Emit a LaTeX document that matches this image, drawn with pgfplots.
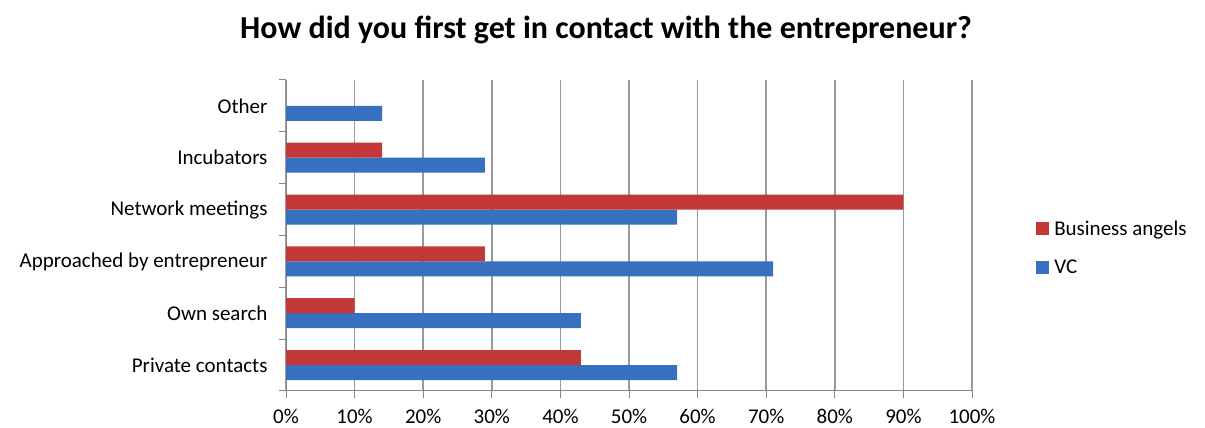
\documentclass[border=0pt]{standalone}
\usepackage{pgfplots}
\pgfplotsset{compat=1.18}
\usepackage{fontspec}
\setmainfont{Carlito}
\definecolor{baC}{HTML}{C23838}
\definecolor{vcC}{HTML}{3670BE}
\definecolor{gridc}{HTML}{9A9A9A}
\definecolor{axisc}{HTML}{868686}
\begin{document}
\begin{tikzpicture}
\path[use as bounding box] (0,0) rectangle (1205pt,428pt);
\node[font=\fontsize{32}{38}\selectfont\bfseries] at (606pt,398pt) {How did you first get in contact with the entrepreneur?};
\begin{axis}[
  at={(286pt,37pt)}, anchor=south west,
  scale only axis, width=686pt, height=311pt,
  xbar=0pt, bar width=15pt,
  xmin=0, xmax=100, ymin=-0.5, ymax=5.5,
  xtick={0,10,...,100},
  xticklabels={0\%,10\%,20\%,30\%,40\%,50\%,60\%,70\%,80\%,90\%,100\%},
  ytick={0,...,5},
  yticklabels={Private contacts, Own search, Approached by entrepreneur, Network meetings, Incubators, Other},
  minor ytick={-0.5,0.5,...,5.5},
  axis x line*=bottom, axis y line*=left,
  axis line style={-, draw=axisc, line width=1pt},
  tick align=outside,
  major tick length=7pt, minor tick length=7pt,
  major y tick style={draw=none},
  minor y tick style={draw=axisc, line width=1pt},
  major x tick style={draw=axisc, line width=1pt},
  xmajorgrids, ymajorgrids=false,
  major x grid style={draw=gridc, line width=1.6pt},
  /pgf/number format/assume math mode=true,
  ticklabel style={font=\fontsize{21}{25}\selectfont},
  yticklabel style={xshift=-8pt},
  xticklabel style={yshift=-8pt},
  reverse legend,
  legend style={at={(1.089,0.46)}, anchor=west, draw=none, fill=none,
    font=\fontsize{21}{25}\selectfont, row sep=19pt,
    nodes={inner xsep=5pt}},
  legend cell align=left,
  legend image code/.code={\path[#1, draw=none] (0pt,-6.5pt) rectangle (13pt,6.5pt);},
]
\addplot[draw=none, fill=vcC]
  coordinates {(57,0) (43,1) (71,2) (57,3) (29,4) (14,5)};
\addplot[draw=none, fill=baC]
  coordinates {(43,0) (10,1) (29,2) (90,3) (14,4)};
\legend{VC, Business angels}
\end{axis}
\end{tikzpicture}
\end{document}
